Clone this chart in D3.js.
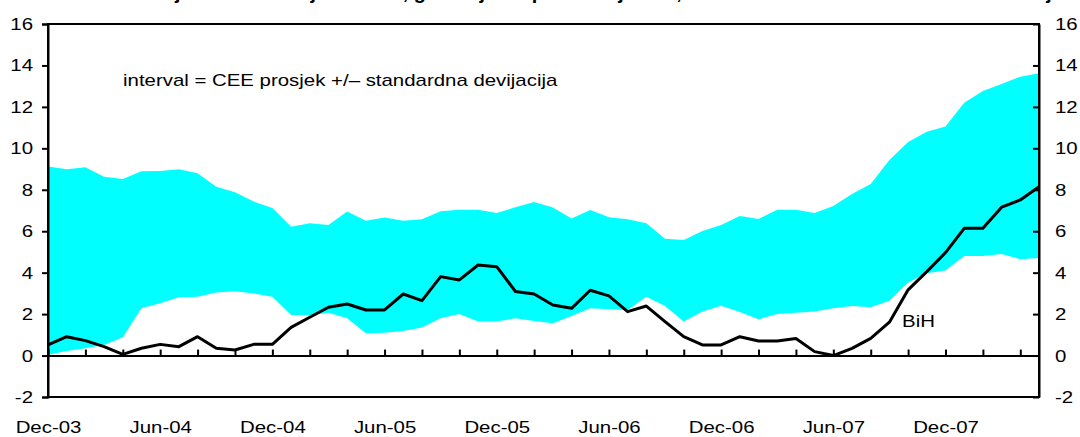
<!DOCTYPE html>
<html>
<head>
<meta charset="utf-8">
<script src="https://cdn.jsdelivr.net/npm/d3@7"></script>
<style>
  body { margin: 0; background: #fff; }
  svg { display: block; font-family: "Liberation Sans", Arial, sans-serif; }
</style>
</head>
<body>
<svg width="1080" height="437"></svg>
<script>
// monthly, Dec-03 .. May-08
var months = d3.utcMonth.range(new Date(Date.UTC(2003, 11, 1)), new Date(Date.UTC(2008, 5, 1)))
    .map(d3.utcFormat("%b-%y"));

var tickLabels = ["Dec-03", "Jun-04", "Dec-04", "Jun-05", "Dec-05", "Jun-06", "Dec-06", "Jun-07", "Dec-07"];

// CEE mean + std dev
var upper = [9.12, 8.99, 9.09, 8.63, 8.52, 8.89, 8.91, 8.99, 8.80, 8.15,
             7.88, 7.43, 7.12, 6.22, 6.38, 6.30, 6.95, 6.51, 6.66, 6.51,
             6.58, 6.96, 7.04, 7.04, 6.88, 7.16, 7.41, 7.14, 6.61, 7.03,
             6.67, 6.58, 6.38, 5.64, 5.58, 6.01, 6.30, 6.74, 6.59, 7.04,
             7.04, 6.88, 7.22, 7.80, 8.28, 9.44, 10.30, 10.80, 11.05, 12.20,
             12.77, 13.10, 13.46, 13.62];

// CEE mean - std dev
var lower = [0.04, 0.22, 0.35, 0.51, 0.88, 2.28, 2.52, 2.81, 2.84, 3.04,
             3.10, 3.00, 2.84, 1.96, 1.94, 2.07, 1.80, 1.08, 1.10, 1.19,
             1.35, 1.80, 2.01, 1.64, 1.64, 1.80, 1.67, 1.56, 1.91, 2.28,
             2.23, 2.20, 2.84, 2.39, 1.64, 2.12, 2.40, 2.10, 1.75, 2.01,
             2.07, 2.12, 2.28, 2.39, 2.33, 2.65, 3.52, 3.97, 4.10, 4.81,
             4.81, 4.90, 4.65, 4.71];

var bih = [0.51, 0.91, 0.72, 0.43, 0.06, 0.35, 0.54, 0.43, 0.91, 0.35,
           0.27, 0.54, 0.54, 1.36, 1.85, 2.33, 2.49, 2.20, 2.20, 2.97,
           2.65, 3.81, 3.65, 4.37, 4.29, 3.09, 2.97, 2.44, 2.28, 3.15,
           2.88, 2.12, 2.39, 1.64, 0.91, 0.51, 0.51, 0.91, 0.70, 0.70,
           0.82, 0.19, 0.00, 0.35, 0.83, 1.61, 3.17, 4.05, 4.97, 6.14,
           6.14, 7.16, 7.51, 8.15];

var yTicks = [-2, 0, 2, 4, 6, 8, 10, 12, 14, 16];

var svg = d3.select("svg"),
    margin = {top: 24, right: 41, bottom: 40, left: 48},
    width = +svg.attr("width") - margin.left - margin.right,
    height = +svg.attr("height") - margin.top - margin.bottom;

var x = d3.scalePoint().domain(months).range([0, width]),
    y = d3.scaleLinear().domain([-2, 16]).range([height, 0]);

// the original picture's text is a bit wider than Arial, stretch it
function stretch(sel) {
    sel.each(function() {
        var len = this.getComputedTextLength();
        d3.select(this)
            .attr("textLength", len * 1.2)
            .attr("lengthAdjust", "spacingAndGlyphs");
    });
}

// title, cut off at the top of the picture (only descenders show)
svg.append("text")
    .attr("x", 590)
    .attr("y", -1)
    .attr("text-anchor", "middle")
    .style("font-size", "20px")
    .style("font-weight", "bold")
    .text("Inflacija u BiH i zemljama CEE, godišnja stopa inflacije u %, BiH u odnosu na interval za CEE zemlje");

var g = svg.append("g")
    .attr("transform", "translate(" + margin.left + "," + margin.top + ")");

var area = d3.area()
    .x(function(d, i) { return x(months[i]); })
    .y0(function(d, i) { return y(lower[i]); })
    .y1(function(d) { return y(d); });

var line = d3.line()
    .x(function(d, i) { return x(months[i]); })
    .y(function(d) { return y(d); });

g.append("path")
    .datum(upper)
    .attr("d", area)
    .style("fill", "#00ffff");

// zero line with small ticks every 2 months
var zeroAxis = d3.axisBottom(x)
    .tickValues(months.filter(function(d, i) { return i % 2 === 0; }))
    .tickSizeInner(-6)
    .tickSizeOuter(0)
    .tickFormat("");

g.append("g")
    .attr("class", "axis axis--zero")
    .attr("transform", "translate(0," + y(0) + ")")
    .call(zeroAxis);

g.append("path")
    .datum(bih)
    .attr("d", line)
    .style("fill", "none")
    .style("stroke", "#000")
    .style("stroke-width", 3)
    .style("stroke-linejoin", "round");

// frame
g.append("rect")
    .attr("width", width)
    .attr("height", height)
    .style("fill", "none")
    .style("stroke", "#000")
    .style("stroke-width", 2);

var fmt = function(d) { return String(d); };

var yAxisL = d3.axisLeft(y).tickValues(yTicks).tickFormat(fmt).tickSize(6).tickPadding(9),
    yAxisR = d3.axisRight(y).tickValues(yTicks).tickFormat(fmt).tickSizeInner(-6).tickSizeOuter(0).tickPadding(16);

g.append("g")
    .attr("class", "axis axis--y")
    .call(yAxisL);

g.append("g")
    .attr("class", "axis axis--y2")
    .attr("transform", "translate(" + width + ",0)")
    .call(yAxisR);

var xAxis = d3.axisBottom(x)
    .tickValues(tickLabels)
    .tickSize(0)
    .tickPadding(24);

g.append("g")
    .attr("class", "axis axis--x")
    .attr("transform", "translate(0," + height + ")")
    .call(xAxis);

g.selectAll(".axis path, .axis line")
    .style("stroke", "#000")
    .style("stroke-width", 2);
g.selectAll(".axis--x path").remove();
g.selectAll(".axis text")
    .style("font-family", "Liberation Sans, Arial, sans-serif")
    .style("font-size", "17px")
    .style("fill", "#000")
    .call(stretch);

g.append("text")
    .attr("x", 75)
    .attr("y", 62)
    .style("font-size", "17px")
    .text("interval = CEE prosjek +/\u2013 standardna devijacija")
    .call(stretch);

g.append("text")
    .attr("x", x(months[46]) - 6)
    .attr("y", 303)
    .style("font-size", "17px")
    .text("BiH")
    .call(stretch);
</script>
</body>
</html>
